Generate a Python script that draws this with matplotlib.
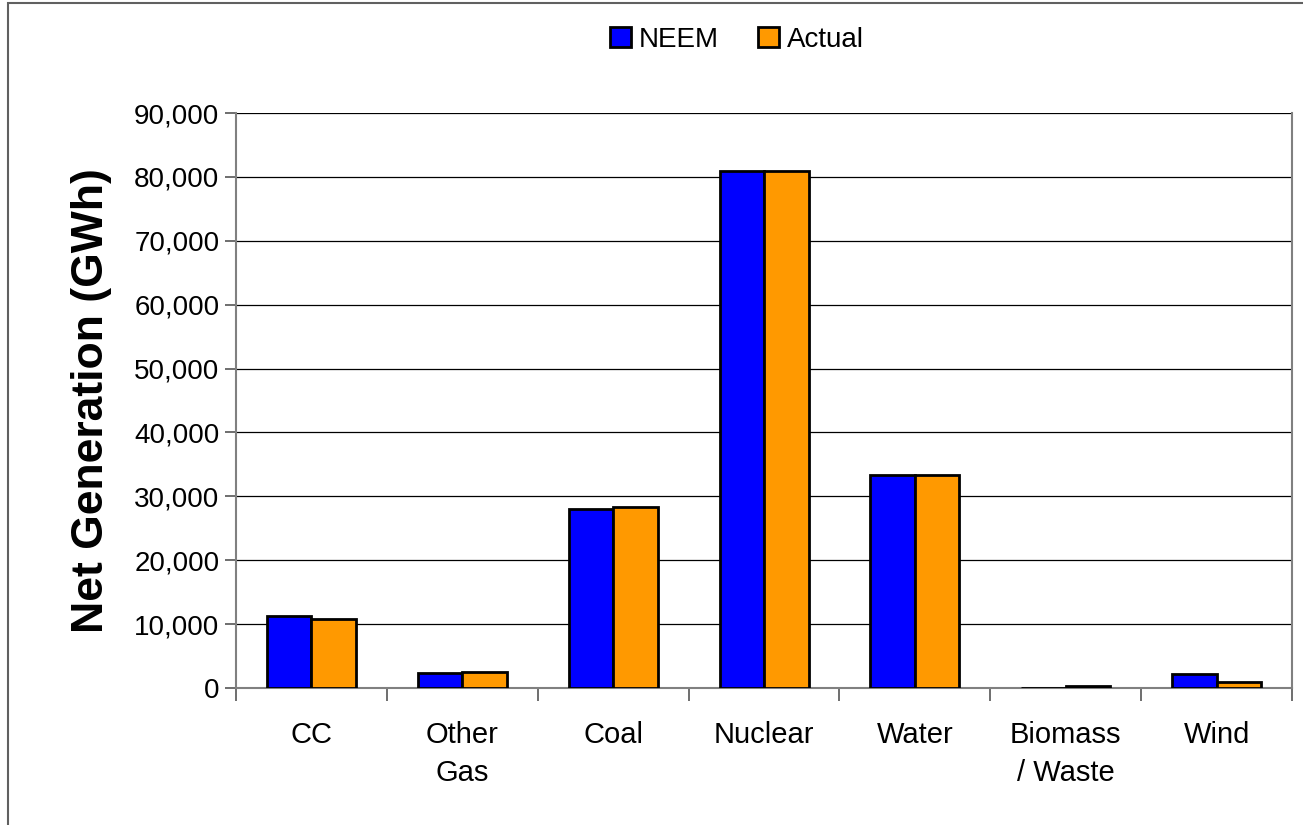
import numpy as np
import matplotlib
matplotlib.use('Agg')
import matplotlib.pyplot as plt
from matplotlib.patches import Rectangle

plt.rcParams['font.family'] = ['Liberation Sans', 'DejaVu Sans']

# ===== Data =====
categories = ['CC', 'Other\nGas', 'Coal', 'Nuclear', 'Water', 'Biomass\n/ Waste', 'Wind']
neem = [11250, 2350, 28000, 80900, 33300, 0, 2250]
actual = [10800, 2500, 28300, 80900, 33300, 300, 900]

BLUE = '#0000FF'
ORANGE = '#FF9900'

fig = plt.figure(figsize=(13.03, 8.25), dpi=100)
ax = fig.add_axes([0.1811, 0.166, 0.8105, 0.697])

x = np.arange(len(categories))
w = 0.295
ax.bar(x - w / 2, neem, width=w, color=BLUE, edgecolor='black', linewidth=2, label='NEEM', zorder=3)
ax.bar(x + w / 2, actual, width=w, color=ORANGE, edgecolor='black', linewidth=2, label='Actual', zorder=3)

ax.set_xlim(-0.5, len(categories) - 0.5)
ax.set_ylim(0, 90000)
ax.set_yticks(np.arange(0, 90001, 10000))
ax.yaxis.set_major_formatter(matplotlib.ticker.FuncFormatter(lambda v, p: f'{int(v):,}'))
ax.grid(True, axis='y', color='black', lw=0.9, zorder=1)

# category labels centered, ticks on boundaries
ax.set_xticks(x)
ax.set_xticklabels(categories, fontsize=21, linespacing=1.45)
ax.tick_params(axis='x', length=0, pad=24)
ax.set_xticks(np.arange(-0.5, len(categories), 1), minor=True)
ax.tick_params(axis='x', which='minor', length=9, width=1.2, color='#555555')
ax.tick_params(axis='y', labelsize=20, length=8, width=1.2, color='#555555', pad=4)

for s in ['left', 'bottom', 'right']:
    ax.spines[s].set_color('#808080')
    ax.spines[s].set_linewidth(1.5)
ax.spines['top'].set_visible(False)

ax.set_ylabel('Net Generation (GWh)', fontsize=32, fontweight='bold', labelpad=16)

ax.legend(loc='center', bbox_to_anchor=(737 / 1303, 1 - 40 / 825), bbox_transform=fig.transFigure,
          ncol=2, frameon=False, fontsize=20, handlelength=0.75, handleheight=0.75,
          handletextpad=0.3, columnspacing=1.4)

# outer frame of the chart image
fig.patches.append(Rectangle((8 / 1303, -0.1), 1.2, (825 - 3) / 825 + 0.1,
                             transform=fig.transFigure, fill=False,
                             edgecolor='#606060', lw=1.5))

fig.savefig('out.png', dpi=100, facecolor='white')
